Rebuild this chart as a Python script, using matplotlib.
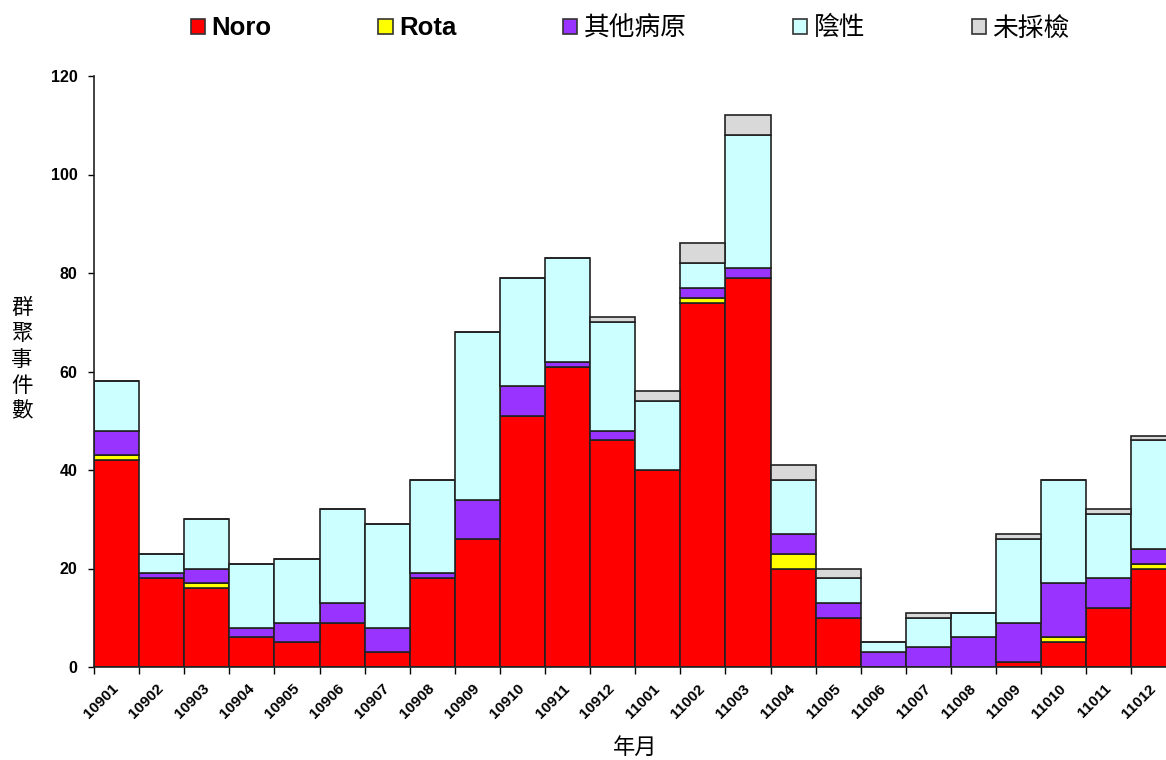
import matplotlib

matplotlib.use("Agg")
import matplotlib.patches as mpatches
import matplotlib.pyplot as plt
import numpy as np

plt.rcParams["font.family"] = ["Liberation Sans", "Noto Sans CJK TC"]

months = ["10901", "10902", "10903", "10904", "10905", "10906", "10907", "10908",
          "10909", "10910", "10911", "10912", "11001", "11002", "11003", "11004",
          "11005", "11006", "11007", "11008", "11009", "11010", "11011", "11012"]
noro = [42, 18, 16, 6, 5, 9, 3, 18, 26, 51, 61, 46, 40, 74, 79, 20, 10, 0, 0, 0, 1, 5, 12, 20]
rota = [1, 0, 1, 0, 0, 0, 0, 0, 0, 0, 0, 0, 0, 1, 0, 3, 0, 0, 0, 0, 0, 1, 0, 1]
other = [5, 1, 3, 2, 4, 4, 5, 1, 8, 6, 1, 2, 0, 2, 2, 4, 3, 3, 4, 6, 8, 11, 6, 3]
negative = [10, 4, 10, 13, 13, 19, 21, 19, 34, 22, 21, 22, 14, 5, 27, 11, 5, 2, 6, 5, 17, 21, 13, 22]
unsampled = [0, 0, 0, 0, 0, 0, 0, 0, 0, 0, 0, 1, 2, 4, 4, 3, 2, 0, 1, 0, 1, 0, 1, 1]

series = [
    ("Noro", noro, "#ff0000"),
    ("Rota", rota, "#ffff00"),
    ("其他病原", other, "#9933ff"),
    ("陰性", negative, "#ccffff"),
    ("未採檢", unsampled, "#d9d9d9"),
]

fig = plt.figure(figsize=(11.66, 7.6), dpi=100)
ax = fig.add_axes([94 / 1166, 1 - 667 / 760, 1 - 94 / 1166, 591 / 760])

x = np.arange(len(months))
bottom = np.zeros(len(months))
handles = []
for name, vals, color in series:
    ax.bar(x, vals, width=1.0, bottom=bottom, color=color, edgecolor="#222222",
           linewidth=1.2, zorder=2)
    bottom += np.array(vals)
    handles.append(mpatches.Patch(facecolor=color, edgecolor="#333333", linewidth=1.2, label=name))

ax.set_yticks(np.arange(0, 121, 20))
ax.tick_params(axis="y", direction="out", length=4, width=1, labelsize=11.5, pad=8)
for t in ax.get_yticklabels():
    t.set_fontweight("bold")

# ticks on bar boundaries, labels centred under bars
ax.set_xticks(np.arange(len(months) + 1) - 0.5, labels=[""] * (len(months) + 1))
ax.set_xticks(x, labels=months, minor=True)
ax.tick_params(axis="x", which="major", direction="out", length=5, width=1)
ax.tick_params(axis="x", which="minor", length=0, pad=14, labelsize=11)
for t in ax.get_xticklabels(minor=True):
    t.set_rotation(45)
    t.set_ha("right")
    t.set_va("center")
    t.set_rotation_mode("anchor")
    t.set_fontweight("bold")

# last bar runs off the right edge, as in the source image
ax.set_ylim(0, 120)
ax.set_xlim(-0.5, -0.5 + 1072 / 45.1)

for side in ("top", "right"):
    ax.spines[side].set_visible(False)
for side in ("left", "bottom"):
    ax.spines[side].set_linewidth(1.2)
    ax.spines[side].set_color("#222222")

fig.text(22 / 1166, 0.526, "群\n聚\n事\n件\n數", ha="center", va="center", fontsize=15.5,
         linespacing=1.3)
fig.text(635 / 1166, 1 - 748 / 760, "年月", ha="center", va="center", fontsize=16)

leg = fig.legend(handles=handles, loc="center", bbox_to_anchor=(0.5407, 0.9627), ncol=5,
                 frameon=False, fontsize=18.5, handlelength=0.55, handleheight=0.55,
                 handletextpad=0.25, columnspacing=4.15)
for t in leg.get_texts():
    if t.get_text().isascii():
        t.set_fontweight("bold")

fig.savefig("out.png", dpi=100, facecolor="white")
